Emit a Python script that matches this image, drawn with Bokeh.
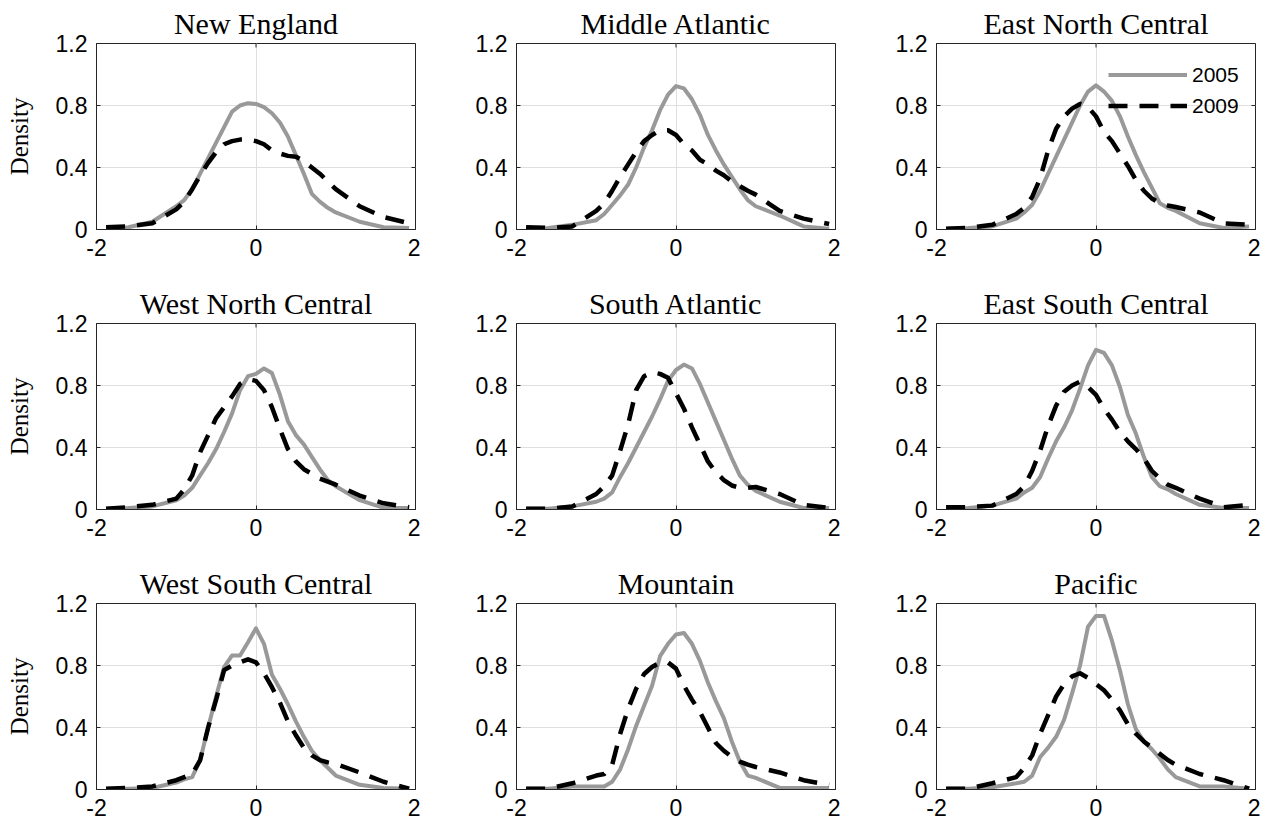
from bokeh.plotting import figure
from bokeh.layouts import gridplot
from bokeh.models import Range1d, FixedTicker, Legend, LegendItem
from bokeh.embed import file_html
from bokeh.resources import INLINE

# Evaluation points of the density estimates
x_grid = [-1.88, -1.6, -1.3, -1.0, -0.9, -0.8, -0.7, -0.6, -0.5, -0.4, -0.3, -0.2, -0.1,
          0.0, 0.1, 0.2, 0.3, 0.4, 0.5, 0.6, 0.7, 0.8, 0.9, 1.0, 1.3, 1.6, 1.92]

regions = ["New England", "Middle Atlantic", "East North Central",
           "West North Central", "South Atlantic", "East South Central",
           "West South Central", "Mountain", "Pacific"]

years = ["2005", "2009"]

new_england_2005 = [0.01, 0.015, 0.05, 0.15, 0.19, 0.26, 0.36, 0.46, 0.56, 0.66, 0.76, 0.80, 0.815,
                    0.81, 0.79, 0.75, 0.69, 0.60, 0.48, 0.36, 0.23, 0.18, 0.14, 0.11, 0.05, 0.015, 0.01]
new_england_2009 = [0.015, 0.02, 0.04, 0.13, 0.18, 0.26, 0.35, 0.43, 0.50, 0.55, 0.57, 0.58, 0.58,
                    0.57, 0.55, 0.51, 0.49, 0.475, 0.47, 0.44, 0.40, 0.36, 0.31, 0.26, 0.15, 0.08, 0.04]

middle_atlantic_2005 = [0.005, 0.01, 0.03, 0.06, 0.10, 0.16, 0.22, 0.29, 0.40, 0.53, 0.64, 0.77, 0.87,
                        0.925, 0.91, 0.84, 0.74, 0.61, 0.51, 0.42, 0.34, 0.26, 0.19, 0.15, 0.09, 0.02, 0.005]
middle_atlantic_2009 = [0.015, 0.01, 0.02, 0.12, 0.17, 0.25, 0.34, 0.42, 0.50, 0.57, 0.61, 0.64, 0.64,
                        0.61, 0.55, 0.51, 0.45, 0.42, 0.38, 0.35, 0.31, 0.28, 0.25, 0.225, 0.12, 0.07, 0.035]

east_north_central_2005 = [0.005, 0.01, 0.02, 0.07, 0.11, 0.16, 0.25, 0.36, 0.47, 0.58, 0.69, 0.80, 0.89,
                           0.93, 0.89, 0.83, 0.73, 0.60, 0.48, 0.37, 0.27, 0.17, 0.14, 0.12, 0.04, 0.01, 0.02]
east_north_central_2009 = [0.005, 0.01, 0.03, 0.10, 0.14, 0.21, 0.33, 0.51, 0.65, 0.73, 0.78, 0.81, 0.79,
                           0.73, 0.63, 0.57, 0.49, 0.41, 0.32, 0.25, 0.20, 0.17, 0.155, 0.145, 0.11, 0.04, 0.03]

west_north_central_2005 = [0.005, 0.01, 0.02, 0.06, 0.09, 0.14, 0.22, 0.30, 0.39, 0.50, 0.62, 0.77, 0.86,
                           0.875, 0.91, 0.88, 0.74, 0.57, 0.48, 0.42, 0.34, 0.26, 0.19, 0.15, 0.06, 0.01, 0.01]
west_north_central_2009 = [0.005, 0.015, 0.03, 0.07, 0.13, 0.22, 0.37, 0.48, 0.59, 0.66, 0.73, 0.81, 0.84,
                           0.83, 0.77, 0.66, 0.52, 0.39, 0.31, 0.26, 0.23, 0.20, 0.18, 0.16, 0.09, 0.04, 0.015]

south_atlantic_2005 = [0.005, 0.005, 0.02, 0.05, 0.07, 0.11, 0.21, 0.30, 0.40, 0.50, 0.60, 0.71, 0.83,
                       0.90, 0.935, 0.91, 0.81, 0.69, 0.57, 0.45, 0.33, 0.22, 0.16, 0.12, 0.05, 0.01, 0.01]
south_atlantic_2009 = [0.005, 0.005, 0.02, 0.10, 0.15, 0.22, 0.38, 0.55, 0.77, 0.86, 0.885, 0.875, 0.85,
                       0.75, 0.65, 0.53, 0.42, 0.31, 0.24, 0.19, 0.155, 0.14, 0.14, 0.145, 0.10, 0.03, 0.01]

east_south_central_2005 = [0.005, 0.01, 0.025, 0.07, 0.11, 0.14, 0.21, 0.33, 0.44, 0.53, 0.64, 0.78, 0.93,
                           1.03, 1.01, 0.93, 0.79, 0.61, 0.49, 0.34, 0.21, 0.15, 0.13, 0.10, 0.03, 0.01, 0.01]
east_south_central_2009 = [0.015, 0.015, 0.025, 0.10, 0.15, 0.25, 0.38, 0.54, 0.67, 0.76, 0.80, 0.825, 0.79,
                           0.74, 0.65, 0.58, 0.50, 0.44, 0.39, 0.33, 0.25, 0.20, 0.16, 0.14, 0.07, 0.015, 0.03]

west_south_central_2005 = [0.005, 0.005, 0.01, 0.045, 0.065, 0.08, 0.19, 0.40, 0.60, 0.79, 0.865, 0.865, 0.95,
                           1.04, 0.94, 0.74, 0.65, 0.55, 0.44, 0.34, 0.25, 0.19, 0.14, 0.09, 0.03, 0.01, 0.005]
west_south_central_2009 = [0.005, 0.01, 0.02, 0.06, 0.08, 0.10, 0.19, 0.40, 0.58, 0.77, 0.80, 0.82, 0.84,
                           0.82, 0.75, 0.66, 0.56, 0.44, 0.35, 0.27, 0.22, 0.19, 0.175, 0.165, 0.11, 0.05, 0.005]

mountain_2005 = [0.005, 0.005, 0.02, 0.02, 0.02, 0.05, 0.13, 0.26, 0.41, 0.54, 0.67, 0.86, 0.94,
                 1.0, 1.01, 0.94, 0.83, 0.69, 0.57, 0.46, 0.31, 0.18, 0.09, 0.075, 0.01, 0.01, 0.01]
mountain_2009 = [0.005, 0.005, 0.04, 0.09, 0.10, 0.16, 0.36, 0.52, 0.65, 0.745, 0.79, 0.82, 0.82,
                 0.78, 0.67, 0.58, 0.50, 0.40, 0.30, 0.25, 0.21, 0.18, 0.16, 0.145, 0.11, 0.06, 0.03]

pacific_2005 = [0.005, 0.005, 0.015, 0.04, 0.05, 0.09, 0.21, 0.27, 0.34, 0.45, 0.62, 0.80, 1.05,
                1.12, 1.12, 0.96, 0.77, 0.55, 0.39, 0.31, 0.26, 0.20, 0.13, 0.08, 0.02, 0.02, 0.005]
pacific_2009 = [0.005, 0.005, 0.04, 0.08, 0.14, 0.22, 0.36, 0.48, 0.60, 0.68, 0.73, 0.75, 0.72,
                0.68, 0.64, 0.58, 0.51, 0.42, 0.36, 0.31, 0.27, 0.23, 0.19, 0.16, 0.10, 0.06, 0.005]

series_2005 = [new_england_2005, middle_atlantic_2005, east_north_central_2005,
               west_north_central_2005, south_atlantic_2005, east_south_central_2005,
               west_south_central_2005, mountain_2005, pacific_2005]
series_2009 = [new_england_2009, middle_atlantic_2009, east_north_central_2009,
               west_north_central_2009, south_atlantic_2009, east_south_central_2009,
               west_south_central_2009, mountain_2009, pacific_2009]

x_ticks = [-2, 0, 2]
x_tick_labels = ["-2", "0", "2"]
y_ticks = [0, 0.4, 0.8, 1.2]
y_tick_labels = ["0", "0.4", "0.8", "1.2"]

X_MIN, X_MAX = -2, 2
Y_MIN, Y_MAX = 0, 1.2

AX = "#262626"
GRID = "#dfdfdf"
GRAY = "#999999"
TICK_FONT = "Liberation Sans"
SERIF = "Liberation Serif"

FRAME_W, FRAME_H = 319, 186
TICK_PX = 4


def style_axis(ax, ticks, labels):
    ax.ticker = FixedTicker(ticks=ticks)
    ax.major_label_overrides = {t: l for t, l in zip(ticks, labels)}
    ax.minor_tick_line_color = None
    ax.major_tick_in = TICK_PX
    ax.major_tick_out = 0
    ax.axis_line_color = AX
    ax.major_tick_line_color = AX
    ax.major_label_text_font = TICK_FONT
    ax.major_label_text_color = "#000000"
    ax.major_label_text_font_size = "23px"
    ax.major_label_standoff = 9


panels = []
for i, name in enumerate(regions):
    row, col = divmod(i, 3)
    h = 280 if row < 2 else 270
    p = figure(width=420, height=h, x_range=Range1d(X_MIN, X_MAX), y_range=Range1d(Y_MIN, Y_MAX),
               output_backend="svg", toolbar_location=None,
               min_border_left=96, min_border_right=5,
               min_border_top=43, min_border_bottom=h - 43 - FRAME_H)
    p.title.text = name
    p.title.text_font = SERIF
    p.title.text_font_size = "30px"
    p.title.text_font_style = "normal"
    p.title.align = "center"
    p.title.text_color = "#000000"
    p.title.standoff = 8
    p.outline_line_color = AX
    p.background_fill_color = "white"
    p.border_fill_color = "white"

    style_axis(p.xaxis[0], x_ticks, x_tick_labels)
    style_axis(p.yaxis[0], y_ticks, y_tick_labels)
    p.xgrid.ticker = FixedTicker(ticks=x_ticks)
    p.ygrid.ticker = FixedTicker(ticks=y_ticks)
    p.xgrid.grid_line_color = GRID
    p.ygrid.grid_line_color = GRID

    # inward tick marks on the top and right edges of the box (from the tick arrays)
    dx = TICK_PX * (X_MAX - X_MIN) / FRAME_W
    dy = TICK_PX * (Y_MAX - Y_MIN) / FRAME_H
    p.segment(x0=[X_MAX] * len(y_ticks), x1=[X_MAX - dx] * len(y_ticks), y0=y_ticks, y1=y_ticks,
              line_color=AX, line_width=1)
    p.segment(x0=x_ticks, x1=x_ticks, y0=[Y_MAX] * len(x_ticks), y1=[Y_MAX - dy] * len(x_ticks),
              line_color=AX, line_width=1)

    if col == 0:
        p.yaxis[0].axis_label = "Density"
        p.yaxis[0].axis_label_text_font = SERIF
        p.yaxis[0].axis_label_text_font_size = "25px"
        p.yaxis[0].axis_label_text_font_style = "normal"
        p.yaxis[0].axis_label_text_color = "#000000"
        p.yaxis[0].axis_label_standoff = 20

    r1 = p.line(x_grid, series_2005[i], line_color=GRAY, line_width=4, line_join="round")
    r2 = p.line(x_grid, series_2009[i], line_color="black", line_width=4.5,
                line_dash="19 12", line_join="round")

    if i == 2:
        legend = Legend(items=[LegendItem(label=years[0], renderers=[r1]),
                               LegendItem(label=years[1], renderers=[r2])],
                        location=(172, 111), glyph_width=79, glyph_height=25,
                        label_height=25, spacing=6, padding=0, margin=0,
                        label_standoff=5, border_line_color=None,
                        background_fill_alpha=0,
                        label_text_font=TICK_FONT, label_text_font_size="21px",
                        label_text_color="#000000")
        p.add_layout(legend)
    panels.append(p)

grid = gridplot([panels[0:3], panels[3:6], panels[6:9]], toolbar_location=None)

open("out.html", "w").write(file_html(grid, INLINE))
